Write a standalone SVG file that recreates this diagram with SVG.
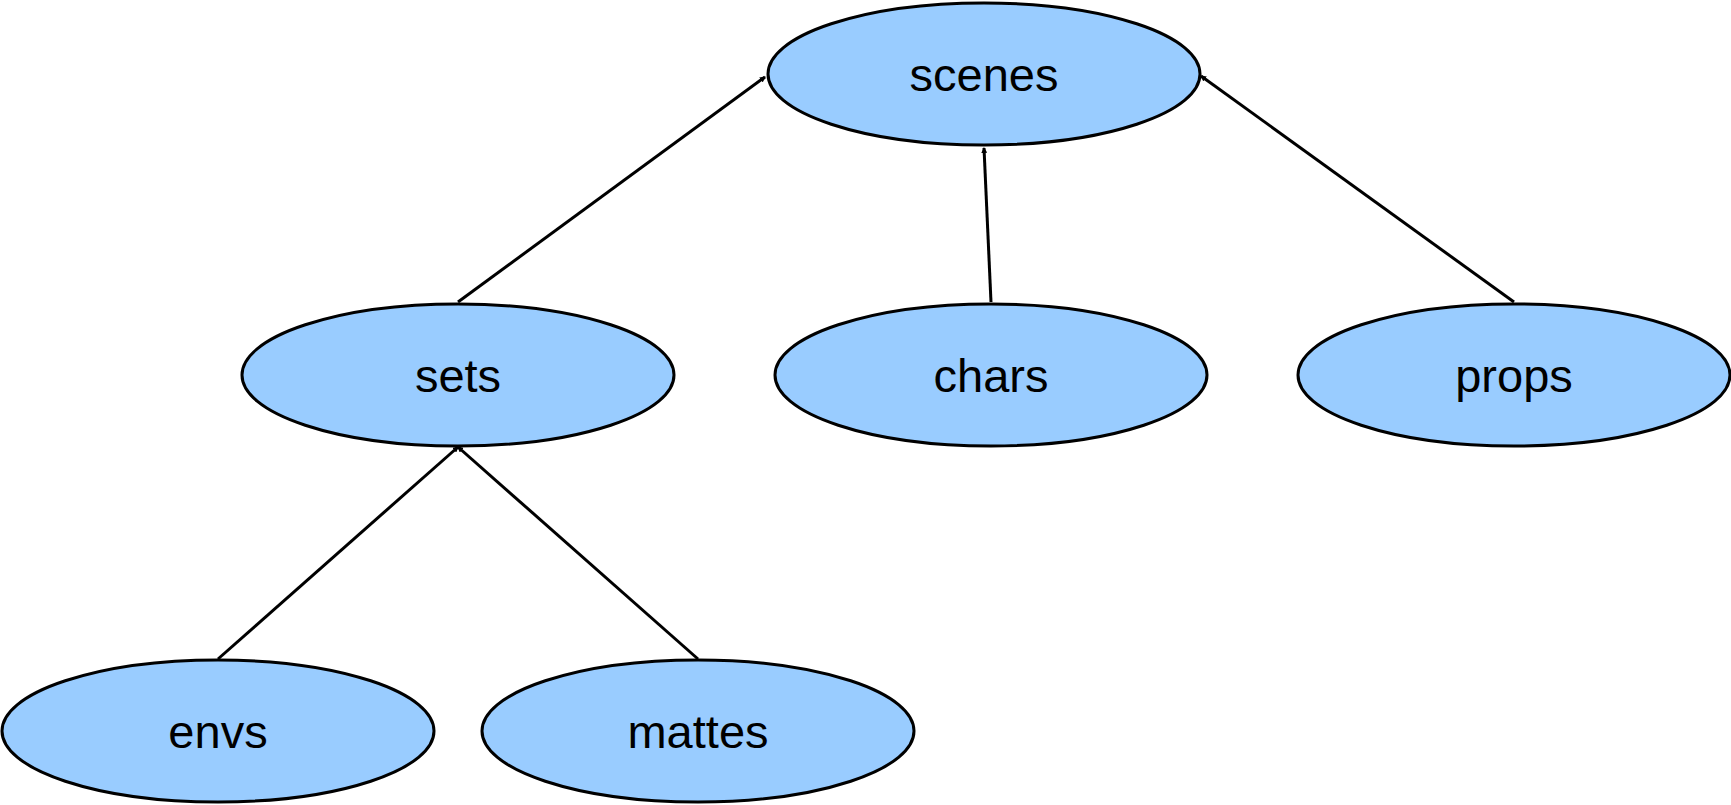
<svg xmlns="http://www.w3.org/2000/svg" width="1731" height="805" viewBox="0 0 1731 805">
<style>
.node ellipse{fill:#99ccff;stroke:#000;stroke-width:3}
.node text{font-family:"Liberation Sans",Arial,sans-serif;font-size:47px;fill:#000;text-anchor:middle}
.edge{stroke:#000;stroke-width:3;fill:none;marker-end:url(#ah)}
</style>
<defs>
<marker id="ah" viewBox="0 0 6 6" refX="5" refY="3" markerWidth="2" markerHeight="2" orient="auto" markerUnits="strokeWidth">
<path d="M0,0 L6,3 L0,6 z" fill="#000"/>
</marker>
</defs>
<rect width="1731" height="805" fill="#fff"/>
<g id="connectors">
<line class="edge" x1="458" y1="302" x2="765" y2="77"/>
<line class="edge" x1="991" y1="302" x2="984" y2="148"/>
<line class="edge" x1="1514" y1="302" x2="1201" y2="76"/>
<line class="edge" x1="218" y1="659" x2="458" y2="447"/>
<line class="edge" x1="698" y1="659" x2="458" y2="447"/>
</g>
<g id="scenes" class="node"><ellipse cx="984" cy="74" rx="216" ry="71"/><text x="984" y="91">scenes</text></g>
<g id="sets" class="node"><ellipse cx="458" cy="375" rx="216" ry="71"/><text x="458" y="392">sets</text></g>
<g id="chars" class="node"><ellipse cx="991" cy="375" rx="216" ry="71"/><text x="991" y="392">chars</text></g>
<g id="props" class="node"><ellipse cx="1514" cy="375" rx="216" ry="71"/><text x="1514" y="392">props</text></g>
<g id="envs" class="node"><ellipse cx="218" cy="731" rx="216" ry="71"/><text x="218" y="748">envs</text></g>
<g id="mattes" class="node"><ellipse cx="698" cy="731" rx="216" ry="71"/><text x="698" y="748">mattes</text></g>
</svg>
